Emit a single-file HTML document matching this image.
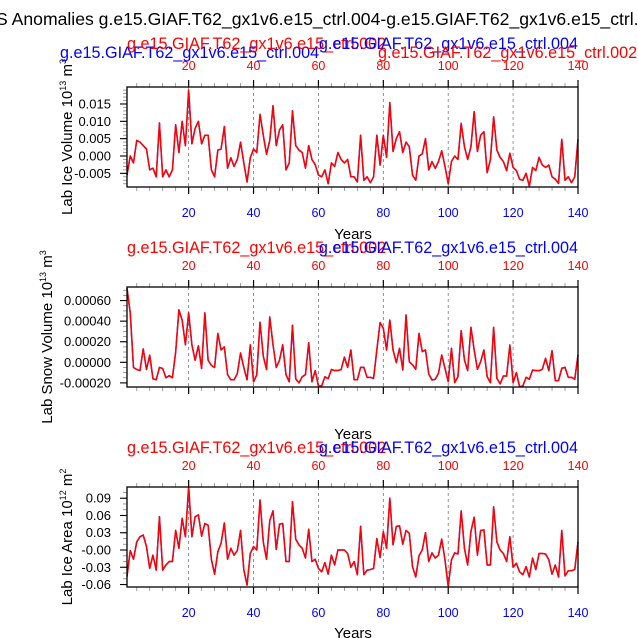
<!DOCTYPE html>
<html><head><meta charset="utf-8"><style>
body{margin:0;background:#fff;}
svg{display:block;font-family:"Liberation Sans",sans-serif;}
</style></head><body>
<svg id="chart" width="638" height="638" viewBox="0 0 638 638" xmlns="http://www.w3.org/2000/svg">
<rect width="638" height="638" fill="#fff"/>
<text x="-4" y="25" font-size="17.6" fill="#000">S Anomalies g.e15.GIAF.T62_gx1v6.e15_ctrl.004-g.e15.GIAF.T62_gx1v6.e15_ctrl.002</text>
</svg>
<script>
const years = Array.from({length:140},(_, i)=>i+1);
const xTicks = [20,40,60,80,100,120,140];
const iceVol = [-0.0055,0,-0.002,0.0045,0.004,0.003,0.002,-0.004,-0.0035,-0.006, 0.0095,-0.006,-0.004,-0.006,-0.004,0.009,0.001,0.010,0.003,0.019, 0.0035,0.008,0.010,0.0035,0.006,0.006,-0.004,-0.006,0.0017,0.002, 0.0085,-0.0035,-0.0005,-0.003,-0.001,0.004,-0.002,-0.0075,-0.0005,0.002, 0.001,0.012,0.006,0.0005,0.0045,0.0145,0.003,0.0075,0.009,-0.004, -0.002,0.013,0.003,0.0017,0.001,-0.0035,0.003,-0.001,-0.0025,-0.0055, -0.006,-0.004,-0.008,-0.002,-0.003,0.001,-0.001,-0.002,-0.001,-0.006, -0.006,-0.0075,
0.006,-0.007,-0.006,-0.0077,-0.006,0.006,-0.0026,0.006,-0.0004,0.0154, 0.0013,0.005,0.007,0.001,0.004,0.0027,-0.0055,-0.007,0,0.0006, 0.005,-0.004,-0.0016,-0.0036,-0.0016,0.0015,-0.003,-0.008,-0.0016,0, -0.001,0.0094,0.0027,-0.001,0.0027,0.0128,0.0013,0.006,0.007,-0.0048, -0.0011,0.0113,0.0017,-0.0004,-0.0016,-0.0042,0.0008,-0.0033,-0.0042,-0.0067, -0.007,-0.005,-0.0087,-0.0033,-0.0042,-0.0004,-0.0026,-0.0033,-0.0026,-0.006, -0.0067,-0.0079,0.0048,-0.007,-0.006,-0.0077,-0.006,0.0048];
const snowVol = [72e-5,48e-5,-5e-5,-7e-5,-8e-5,13e-5,-7e-5,7e-5,-16e-5,-17e-5, -5e-5,-6e-5,-15e-5,-13e-5,-15e-5,10e-5,51e-5,41e-5,17e-5,48e-5, 17e-5,2e-5,16e-5,-6e-5,48e-5,2e-5,-3e-5,-5e-5,28e-5,12e-5, 15e-5,-12e-5,-17e-5,-17e-5,-11e-5,9e-5,-5e-5,-17e-5,17e-5,-19e-5, -12e-5,39e-5,6e-5,-7e-5,44e-5,17e-5,-5e-5,2e-5,17e-5,-12e-5, -19e-5,36e-5,-16e-5,-20e-5,-14e-5,-12e-5,19e-5,-19e-5,-8e-5,-23e-5, -23e-5,-14e-5,-16e-5,-7e-5,-8e-5,-8e-5,-7e-5,5e-5,-5e-5,12e-5, -17e-5,-17e-5,
-4.9e-5,-4.9e-5,-14.6e-5,-14.6e-5,-15.6e-5,12e-5,38.6e-5,33e-5,12e-5,41e-5, 12e-5,-0.3e-5,13.6e-5,-7.5e-5,46e-5,0.6e-5,-2.6e-5,-6.8e-5,28e-5,10.4e-5, 12e-5,-11.3e-5,-17.2e-5,-16.5e-5,-10.7e-5,7.1e-5,-5.8e-5,-18.8e-5,13.6e-5,-19.8e-5, -13.9e-5,30.8e-5,2.3e-5,-8.1e-5,34e-5,12e-5,-6.8e-5,0.6e-5,12e-5,-13.9e-5, -19.8e-5,34e-5,-15.6e-5,-21e-5,-13.3e-5,-13.3e-5,16.8e-5,-19.8e-5,-10e-5,-23.7e-5, -23e-5,-14.6e-5,-16.5e-5,-7.5e-5,-8.1e-5,-8.1e-5,-6.8e-5,3.9e-5,-8.1e-5,11.3e-5, -17.8e-5,-17.8e-5,-5.8e-5,-4.9e-5,-14.6e-5,-14.6e-5,-16.5e-5,7.1e-5];
const iceArea = [-0.046,-0.001,-0.016,0.014,0.023,0.026,0.006,-0.032,-0.009,-0.035, 0.058,-0.035,-0.026,-0.02,-0.02,0.034,0.003,0.055,0.023,0.11, 0.023,0.058,0.061,0.024,0.046,0.043,-0.016,-0.042,-0.003,0.012, 0.047,-0.016,0.003,-0.009,-0.001,0.034,-0.034,-0.061,-0.006,0.006, 0,0.087,0.014,-0.016,0.051,0.068,0.001,0.045,0.046,-0.02, -0.02,0.084,0.019,0.009,0.003,-0.014,0.036,-0.02,-0.016,-0.032, -0.038,-0.022,-0.042,-0.009,-0.026,0,0,0,-0.006,-0.03, -0.02,-0.043,
0.041,-0.043,-0.035,-0.034,-0.032,0.020,-0.013,0.032,0.003,0.090, 0.009,0.041,0.042,0.010,0.034,0.029,-0.029,-0.047,-0.010,0, 0.030,-0.020,-0.005,-0.014,-0.009,0.019,-0.017,-0.063,-0.017,-0.005, -0.007,0.068,0.003,-0.026,0.032,0.057,-0.009,0.034,0.035,-0.026, -0.026,0.075,0.014,0,-0.006,-0.020,0.023,-0.030,-0.023,-0.038, -0.043,-0.029,-0.047,-0.014,-0.034,-0.006,-0.006,-0.007,-0.017,-0.042, -0.026,-0.047,0.034,-0.045,-0.036,-0.036,-0.034,0.014];
const iceVolTicks = [0.015,0.010,0.005,0.000,-0.005];
const iceVolTickLabels = ["0.015","0.010","0.005","0.000","-0.005"];
const snowVolTicks = [0.0006,0.0004,0.0002,0,-0.0002];
const snowVolTickLabels = ["0.00060","0.00040","0.00020","0.00000","-0.00020"];
const iceAreaTicks = [0.09,0.06,0.03,0,-0.03,-0.06];
const iceAreaTickLabels = ["0.09","0.06","0.03","-0.00","-0.03","-0.06"];

const NS="http://www.w3.org/2000/svg";
const svg=document.getElementById('chart');
function mk(tag,attrs,parent){const e=document.createElementNS(NS,tag);for(const k in attrs)e.setAttribute(k,attrs[k]);(parent||svg).appendChild(e);return e;}
const L=127,R=578,H=100;
function xs(v){return L+(v-1)*(R-L)/139;}

function panel(cfg){
  const g=mk('g',{});
  
  
  const T=cfg.top,B=cfg.top+H;
  const ys=v=>B-(v-cfg.min)/(cfg.max-cfg.min)*H;
  for(const t of [20,40,60,80,100,120]){
    const ln=mk('line',{x1:xs(t),x2:xs(t),y1:T,y2:B,stroke:'#777','stroke-width':0.8,'stroke-dasharray':'3,3'},g);
    
    
  }
  for(let t=4;t<=140;t+=4){
    const major=(t%20===0);const len=major?7:4;const x=xs(t);
    mk('line',{x1:x,x2:x,y1:T,y2:T-len,stroke:major?'#000':'#888','stroke-width':major?1.2:0.8},g);
    mk('line',{x1:x,x2:x,y1:B,y2:B+len,stroke:major?'#000':'#888','stroke-width':major?1.2:0.8},g);
  }
  for(let v=cfg.minorStart;v<=cfg.max+1e-12;v+=cfg.minor){
    if(v<cfg.min-1e-12)continue;
    const y=ys(v);
    mk('line',{x1:L,x2:L-4,y1:y,y2:y,stroke:'#888','stroke-width':0.8},g);
  }
  cfg.ticks.forEach((v,i)=>{
    const y=ys(v);
    mk('line',{x1:L,x2:L-7,y1:y,y2:y,stroke:'#000','stroke-width':1.1},g);
    const tx=mk('text',{x:L-16,y:y+4.5,'font-size':13,'text-anchor':'end',fill:'#000'},g);
    
    
    tx.textContent=cfg.tickLabels[i];
  });
  const pts=cfg.data.map((v,i)=>xs(years[i])+','+ys(v).toFixed(2)).join(' ');
  const blue=mk('polyline',{points:pts,fill:'none',stroke:'#4040ff','stroke-width':1.5,'stroke-linejoin':'round'},g);
  
  
  const red=mk('polyline',{points:pts,fill:'none',stroke:'#ff0000','stroke-width':1.5,'stroke-linejoin':'round'},g);
  
  
  const fr=mk('rect',{x:L,y:T,width:R-L,height:H,fill:'none',stroke:'#000','stroke-width':1.3},g);
  
  
  xTicks.forEach(t=>{
    const tx=mk('text',{x:xs(t),y:T-17,'font-size':12.5,'text-anchor':'middle',fill:cfg.topColor},g);
    
    
    tx.textContent=t;
  });
  if(cfg.bottomLabels){
    xTicks.forEach(t=>{
      const tx=mk('text',{x:xs(t),y:B+30,'font-size':12.5,'text-anchor':'middle',fill:'#0000ff'},g);
      
      
      tx.textContent=t;
    });
  }
  const xt=mk('text',{x:353,y:B+cfg.yearsOff,'font-size':15,'text-anchor':'middle',fill:'#000'},g);
  
  
  xt.textContent='Years';
  const yt=mk('text',{x:0,y:0,'font-size':15,'text-anchor':'middle',fill:'#000',transform:`translate(${cfg.ytx},${T+50}) rotate(-90)`},g);
  
  
  yt.innerHTML=cfg.ytitle;
  cfg.titles.forEach(tt=>{
    const t=mk('text',{x:tt.x,y:tt.y,'font-size':16.2,'text-anchor':tt.anchor,fill:tt.color},g);
    
    
    t.textContent=tt.s;
  });
}
const S2='g.e15.GIAF.T62_gx1v6.e15_ctrl.002',S4='g.e15.GIAF.T62_gx1v6.e15_ctrl.004';
panel({name:'ice-volume-panel',top:87,min:-0.00894,max:0.0199,data:iceVol,ticks:iceVolTicks,tickLabels:iceVolTickLabels,minor:0.001,minorStart:-0.008,topColor:'#ff0000',bottomLabels:true,yearsOff:52,ytx:72,
 ytitle:'Lab Ice Volume 10<tspan font-size="9" dy="-6">13</tspan><tspan dy="6"> m</tspan><tspan font-size="9" dy="-6">3</tspan>',
 titles:[{x:60,y:58,anchor:'start',color:'#0000ff',s:S4,n:'left-subtitle-004'},{x:127,y:49,anchor:'start',color:'#ff0000',s:S2,n:'left-subtitle-002'},{x:578,y:49,anchor:'end',color:'#0000ff',s:S4,n:'right-subtitle-004'},{x:378,y:58,anchor:'start',color:'#ff0000',s:S2,n:'right-subtitle-002'}]});
panel({name:'snow-volume-panel',top:287,min:-0.00024,max:0.000732,data:snowVol,ticks:snowVolTicks,tickLabels:snowVolTickLabels,minor:0.00005,minorStart:-0.0002,topColor:'#ff0000',bottomLabels:false,yearsOff:52,ytx:52,
 ytitle:'Lab Snow Volume 10<tspan font-size="9" dy="-6">13</tspan><tspan dy="6"> m</tspan><tspan font-size="9" dy="-6">3</tspan>',
 titles:[{x:127,y:253,anchor:'start',color:'#ff0000',s:S2,n:'left-subtitle-002'},{x:578,y:253,anchor:'end',color:'#0000ff',s:S4,n:'right-subtitle-004'}]});
panel({name:'ice-area-panel',top:487,min:-0.0643,max:0.1095,data:iceArea,ticks:iceAreaTicks,tickLabels:iceAreaTickLabels,minor:0.01,minorStart:-0.06,topColor:'#ff0000',bottomLabels:true,yearsOff:51,ytx:72,
 ytitle:'Lab Ice Area 10<tspan font-size="9" dy="-6">12</tspan><tspan dy="6"> m</tspan><tspan font-size="9" dy="-6">2</tspan>',
 titles:[{x:127,y:453,anchor:'start',color:'#ff0000',s:S2,n:'left-subtitle-002'},{x:578,y:453,anchor:'end',color:'#0000ff',s:S4,n:'right-subtitle-004'}]});
</script>
</body></html>
